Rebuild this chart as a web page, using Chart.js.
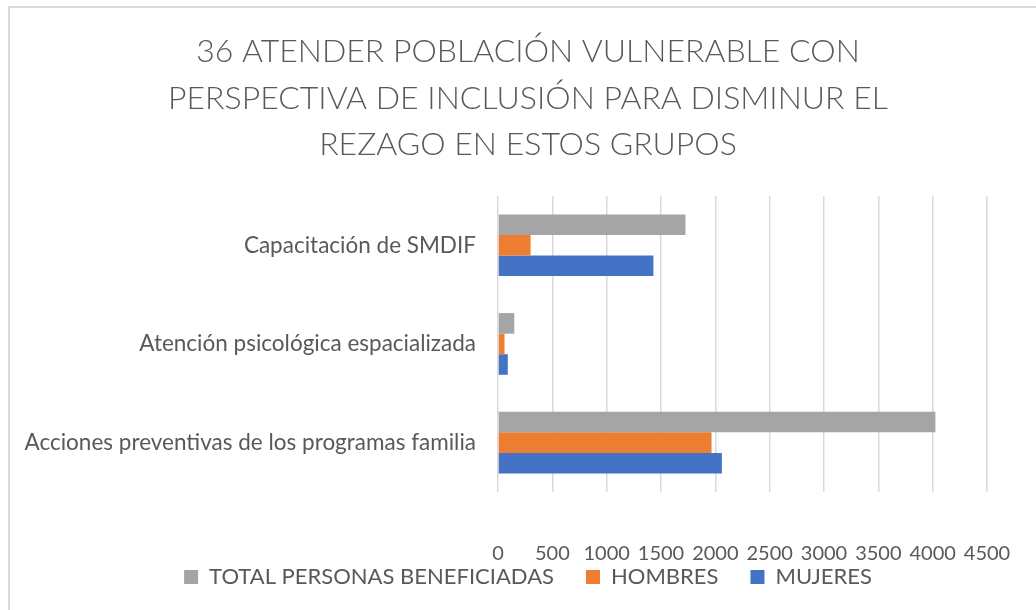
<!DOCTYPE html>
<html>
<head>
<meta charset="utf-8">
<script src="https://cdn.jsdelivr.net/npm/chart.js@4"></script>
<style>
  html, body { margin: 0; padding: 0; background: #fff; }
  #frame { position: absolute; left: 8px; top: 6px; width: 1100px; height: 700px;
           border-left: 2px solid #d9d9d9; border-top: 2px solid #d9d9d9; }
  #wrap { position: absolute; left: 0; top: 0; width: 1036px; height: 610px; }
</style>
</head>
<body>
<div id="frame"></div>
<div id="wrap"><canvas id="chart"></canvas></div>
<script>
// Categorías (de arriba hacia abajo, como se ve en la gráfica)
const categorias = ['Capacitación de SMDIF', 'Atención psicológica espacializada', 'Acciones preventivas de los programas familia'];

// Valores por serie
const total = [1725, 150, 4025];
const hombres = [300, 60, 1965];
const mujeres = [1430, 90, 2060];

const titulo = ['36 ATENDER POBLACIÓN VULNERABLE CON', 'PERSPECTIVA DE INCLUSIÓN PARA DISMINUR EL', 'REZAGO EN ESTOS GRUPOS'];

const gris = '#595959';
const fuente = 'Lato, "Open Sans", sans-serif';

// centra titulo y leyenda como en Excel (no sobre todo el canvas) y sube la leyenda
const posiciones = {
    id: 'posiciones',
    afterLayout(chart) {
        for (const b of [chart.titleBlock, chart.legend]) {
            b.left = 69;
            b.right = 987;
            b.width = b.right - b.left;
        }
        const lg = chart.legend;
        lg.top = 534;
        lg.bottom = lg.top + lg.height;
    }
};

const ctx = document.getElementById('chart').getContext('2d');
new Chart(ctx, {
    type: 'bar',
    data: {
        labels: categorias,
        datasets: [
            { label: 'TOTAL PERSONAS BENEFICIADAS', data: total, backgroundColor: '#A5A5A5' },
            { label: 'HOMBRES', data: hombres, backgroundColor: '#ED7D31' },
            { label: 'MUJERES', data: mujeres, backgroundColor: '#4472C4' }
        ]
    },
    options: {
        indexAxis: 'y',
        responsive: true,
        maintainAspectRatio: false,
        animation: false,
        layout: { padding: { top: 29, right: 0, bottom: -20, left: 0 } },
        datasets: { bar: { categoryPercentage: 0.625, barPercentage: 1 } },
        plugins: {
            title: {
                display: true,
                text: titulo,
                color: gris,
                font: { family: fuente, size: 32, weight: '300', lineHeight: 1.447 },
                padding: { top: 0, bottom: 28 }
            },
            legend: {
                position: 'bottom',
                labels: {
                    color: gris,
                    font: { family: fuente, size: 22 },
                    boxWidth: 14,
                    boxHeight: 14,
                    padding: 32
                }
            },
            tooltip: { enabled: false }
        },
        scales: {
            x: {
                min: 0,
                max: 4500,
                ticks: {
                    stepSize: 500, color: gris, font: { family: fuente, size: 20 }, padding: 50,
                    maxRotation: 0, minRotation: 0, autoSkip: false,
                    callback: (v) => String(v)
                },
                grid: { color: '#d9d9d9', lineWidth: 1.5, drawTicks: false },
                border: { display: false },
                afterFit: (scale) => {
                    scale.height = 74;
                    scale.paddingLeft = 0;
                    scale.paddingRight = 49;
                }
            },
            y: {
                ticks: { color: gris, font: { family: fuente, size: 22.5 }, padding: 14 },
                grid: { display: false },
                border: { display: false },
                afterFit: (scale) => { scale.width = 498; }
            }
        }
    },
    plugins: [posiciones]
});
</script>
</body>
</html>
